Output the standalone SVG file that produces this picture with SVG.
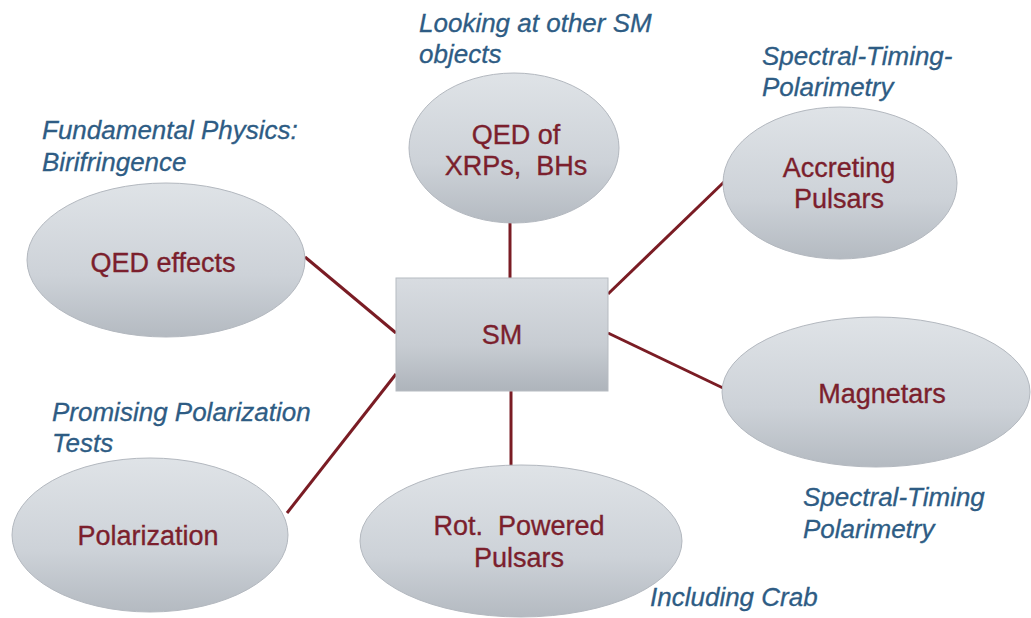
<svg xmlns="http://www.w3.org/2000/svg" width="1031" height="618" viewBox="0 0 1031 618">
  <defs>
    <linearGradient id="gEll" x1="0" y1="0" x2="0" y2="1">
      <stop offset="0" stop-color="#dfe3e7"/>
      <stop offset="0.6" stop-color="#cdd2d8"/>
      <stop offset="1" stop-color="#b4bac1"/>
    </linearGradient>
    <linearGradient id="gRect" x1="0" y1="0" x2="0" y2="1">
      <stop offset="0" stop-color="#d8dce1"/>
      <stop offset="0.6" stop-color="#c7ccd2"/>
      <stop offset="1" stop-color="#aeb4bb"/>
    </linearGradient>
    <style>
      .ell { fill: url(#gEll); stroke: #b3b8bf; stroke-width: 1; }
      .box { fill: url(#gRect); stroke: #b6bbc1; stroke-width: 1; }
      .lbl { font-family: "Liberation Sans", Arial, sans-serif; font-size: 27px; fill: #7b1f2d; stroke: #7b1f2d; stroke-width: 0.35; text-anchor: middle; }
      .note { font-family: "Liberation Sans", Arial, sans-serif; font-size: 26px; font-style: italic; fill: #2e5c84; stroke: #2e5c84; stroke-width: 0.3; }
      .conn line { stroke: #7a1c24; stroke-width: 3; stroke-linecap: butt; }
    </style>
  </defs>
  <rect width="1031" height="618" fill="#ffffff"/>

  <g id="connectors" class="conn">
    <line x1="510" y1="222" x2="510" y2="278"/>
    <line x1="724" y1="182" x2="608" y2="294"/>
    <line x1="305" y1="257" x2="396" y2="333"/>
    <line x1="608" y1="333" x2="723" y2="388"/>
    <line x1="287" y1="513" x2="396" y2="374"/>
    <line x1="511" y1="391" x2="511" y2="466"/>
  </g>

  <g id="node-sm">
    <rect class="box" x="396" y="278" width="212" height="113"/>
    <text class="lbl" x="502" y="344">SM</text>
  </g>

  <g id="node-qed-xrps">
    <ellipse class="ell" cx="514" cy="148" rx="105" ry="75"/>
    <text class="lbl" x="516" y="144">QED of</text>
    <text class="lbl" x="516" y="175">XRPs,&#160; BHs</text>
  </g>

  <g id="node-accreting">
    <ellipse class="ell" cx="840" cy="183" rx="117" ry="76"/>
    <text class="lbl" x="839" y="177">Accreting</text>
    <text class="lbl" x="839" y="208">Pulsars</text>
  </g>

  <g id="node-qed-effects">
    <ellipse class="ell" cx="166" cy="260" rx="139" ry="77"/>
    <text class="lbl" x="163" y="272">QED effects</text>
  </g>

  <g id="node-magnetars">
    <ellipse class="ell" cx="876" cy="392" rx="154" ry="75"/>
    <text class="lbl" x="882" y="403">Magnetars</text>
  </g>

  <g id="node-polarization">
    <ellipse class="ell" cx="150" cy="535" rx="138" ry="77"/>
    <text class="lbl" x="148" y="545">Polarization</text>
  </g>

  <g id="node-rot">
    <ellipse class="ell" cx="521" cy="541" rx="161" ry="76"/>
    <text class="lbl" x="519" y="535">Rot.&#160; Powered</text>
    <text class="lbl" x="519" y="567">Pulsars</text>
  </g>

  <g id="notes">
    <text class="note" x="419" y="32">Looking at other SM</text>
    <text class="note" x="419" y="63">objects</text>
    <text class="note" x="762" y="65">Spectral-Timing-</text>
    <text class="note" x="762" y="96">Polarimetry</text>
    <text class="note" x="42" y="139">Fundamental Physics:</text>
    <text class="note" x="42" y="171">Birifringence</text>
    <text class="note" x="52" y="421">Promising Polarization</text>
    <text class="note" x="52" y="452">Tests</text>
    <text class="note" x="803" y="506">Spectral-Timing</text>
    <text class="note" x="803" y="538">Polarimetry</text>
    <text class="note" x="650" y="606">Including Crab</text>
  </g>
</svg>
